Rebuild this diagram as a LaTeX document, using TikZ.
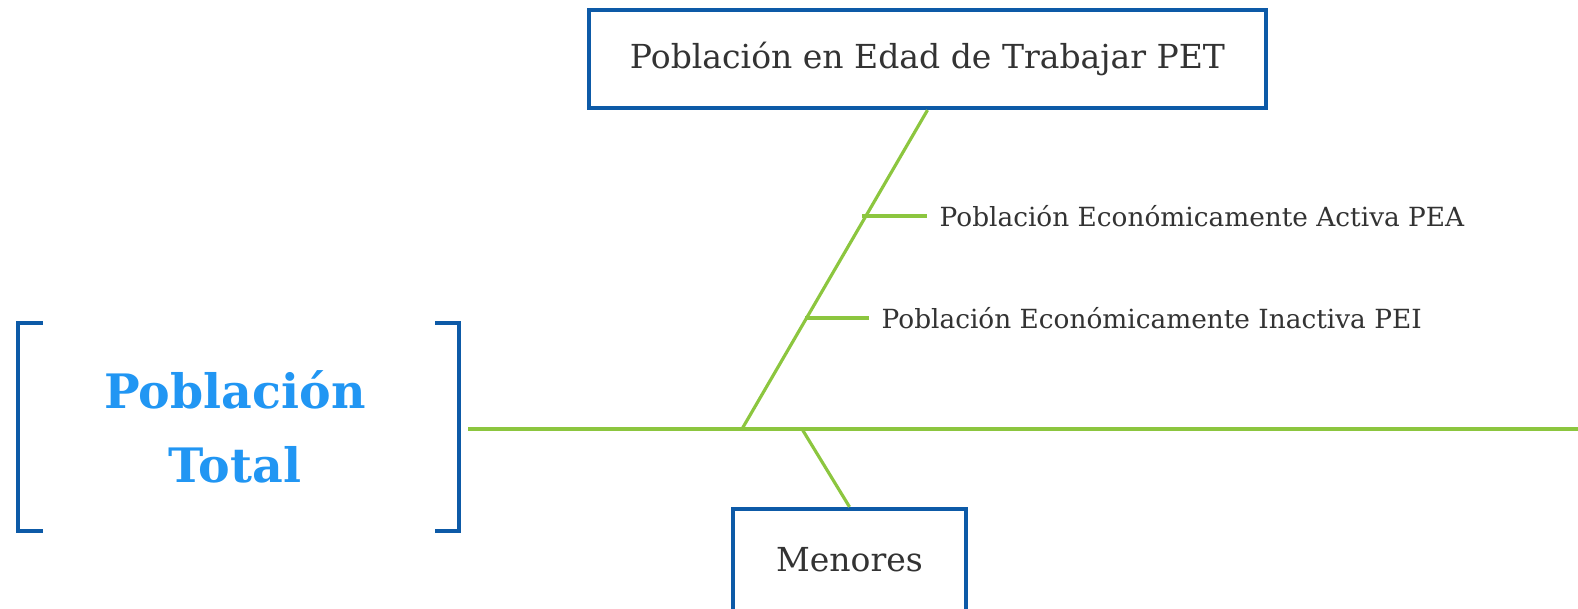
\documentclass[tikz,border=0pt]{standalone}
\usepackage{fontspec}
\setmainfont{DejaVu Serif}
\usepackage[usenames,dvipsnames]{xcolor}
\usepackage{tikz}
\usetikzlibrary{positioning}

\definecolor{azulcaja}{HTML}{0D5AA7}
\definecolor{azultitulo}{HTML}{2196F3}
\definecolor{verderama}{HTML}{8CC63F}
\definecolor{grisletra}{HTML}{333333}

\tikzset{
  caja/.style={draw=azulcaja,line width=1.2pt,fill=white,text=grisletra,inner sep=0pt},
  rama/.style={draw=verderama,line width=0.9pt},
  etiqueta/.style={text=grisletra,anchor=west,inner xsep=0.12cm,inner ysep=0pt,font=\fontsize{7.5pt}{9pt}\selectfont},
  corchete/.style={draw=azulcaja,line width=1.3pt}
}

\begin{document}
\begin{tikzpicture}
  \useasboundingbox (0,0) rectangle (15.78,-6.09);

  \draw (2.35,-4.27) node[text=azultitulo,align=center,font=\bfseries\fontsize{13.5pt}{20.9pt}\selectfont] (total) {Población\\Total};
  \draw[corchete] (0.43,-3.23) -| (0.18,-5.31) -- (0.43,-5.31);
  \draw[corchete] (4.35,-3.23) -| (4.59,-5.31) -- (4.35,-5.31);

  \draw (9.275,-0.59) node[caja,minimum width=6.77cm,minimum height=0.98cm,font=\fontsize{9.4pt}{11pt}\selectfont] (PET) {Población en Edad de Trabajar PET};
  \draw (8.495,-5.60) node[caja,minimum width=2.33cm,minimum height=1.02cm,font=\fontsize{9.4pt}{11pt}\selectfont] (menores) {Menores};

  \coordinate (inicio) at (4.68,-4.29);
  \coordinate (fin) at (15.78,-4.29);
  \coordinate (cruce) at (7.42,-4.29);
  \coordinate (cruceb) at (8.02,-4.29);
  \coordinate (ramaPEA) at (8.62,-2.16);
  \coordinate (ramaPEI) at (8.05,-3.18);

  \draw (9.27,-2.16) node[etiqueta] (PEA) {Población Económicamente Activa PEA};
  \draw (8.69,-3.18) node[etiqueta] (PEI) {Población Económicamente Inactiva PEI};

  \path[rama,line width=1.1pt] (inicio) edge (fin);
  \path[rama] (cruce) edge (PET.south);
  \path[rama] (cruceb) edge (menores.north);
  \path[rama] (ramaPEA) edge (PEA);
  \path[rama] (ramaPEI) edge (PEI);

\end{tikzpicture}
\end{document}
